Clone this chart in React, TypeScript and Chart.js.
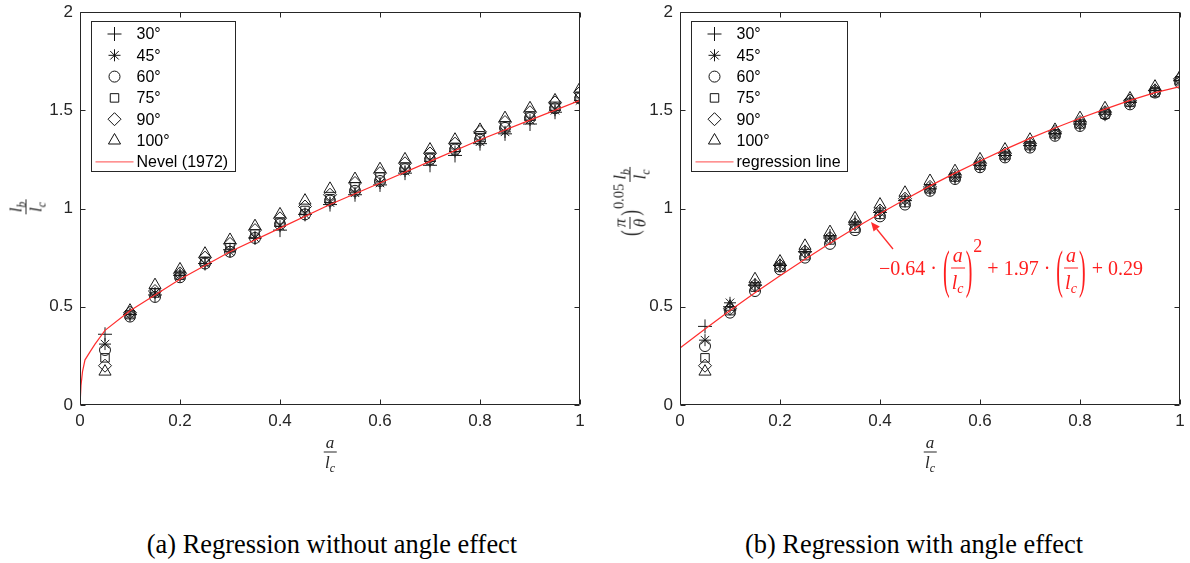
import React, { useEffect, useRef } from 'react';
import { Chart, registerables } from 'chart.js';
import { drawPoint } from 'chart.js/helpers';

Chart.register(...registerables);

// ---------- data ----------
const xValues = [0.05, 0.1, 0.15, 0.2, 0.25, 0.3, 0.35, 0.4, 0.45, 0.5, 0.55, 0.6, 0.65, 0.7, 0.75, 0.8, 0.85, 0.9, 0.95, 1.0];
const angleLabels = ['30°', '45°', '60°', '75°', '90°', '100°'];
const markerStyles = ['cross', 'star', 'circle', 'rect', 'rectRot', 'triangle'];
const markerRadii = [7, 6, 5.5, 6, 6.5, 7];

// (a) without angle effect: lb/lc
const a30 = [0.36, 0.46, 0.56, 0.66, 0.72, 0.79, 0.85, 0.89, 0.97, 1.02, 1.07, 1.12, 1.18, 1.22, 1.27, 1.33, 1.38, 1.43, 1.49, 1.54];
const a45 = [0.31, 0.46, 0.57, 0.66, 0.72, 0.78, 0.85, 0.91, 0.97, 1.03, 1.08, 1.13, 1.19, 1.24, 1.29, 1.34, 1.39, 1.45, 1.50, 1.55];
const a60 = [0.28, 0.45, 0.55, 0.65, 0.72, 0.78, 0.85, 0.92, 0.97, 1.04, 1.09, 1.14, 1.20, 1.25, 1.30, 1.35, 1.41, 1.46, 1.51, 1.56];
const a75 = [0.24, 0.46, 0.57, 0.66, 0.73, 0.80, 0.87, 0.93, 0.99, 1.05, 1.11, 1.16, 1.21, 1.26, 1.31, 1.37, 1.42, 1.47, 1.52, 1.57];
const a90 = [0.20, 0.47, 0.58, 0.67, 0.75, 0.82, 0.89, 0.95, 1.01, 1.07, 1.13, 1.18, 1.23, 1.28, 1.33, 1.39, 1.44, 1.49, 1.54, 1.59];
const a100 = [0.17, 0.48, 0.61, 0.69, 0.77, 0.84, 0.91, 0.97, 1.04, 1.10, 1.15, 1.20, 1.25, 1.30, 1.35, 1.40, 1.46, 1.51, 1.55, 1.61];

const nevelX = [0, 0.002, 0.005, 0.01, 0.02, 0.03, 0.05, 0.1, 0.15, 0.2, 0.3, 0.4, 0.5, 0.6, 0.7, 0.8, 0.9, 1.0];
const nevelY = [0, 0.1, 0.17, 0.23, 0.27, 0.31, 0.38, 0.48, 0.56, 0.64, 0.78, 0.9, 1.02, 1.13, 1.24, 1.35, 1.45, 1.55];

// (b) with angle effect: (pi/theta)^0.05 lb/lc
const b30 = [0.40, 0.50, 0.61, 0.71, 0.78, 0.86, 0.93, 0.98, 1.04, 1.10, 1.16, 1.22, 1.27, 1.32, 1.38, 1.43, 1.48, 1.54, 1.60, 1.65];
const b45 = [0.33, 0.52, 0.61, 0.71, 0.78, 0.85, 0.92, 0.98, 1.04, 1.10, 1.16, 1.22, 1.27, 1.32, 1.38, 1.43, 1.49, 1.54, 1.60, 1.65];
const b60 = [0.30, 0.47, 0.58, 0.69, 0.75, 0.82, 0.89, 0.96, 1.02, 1.09, 1.15, 1.21, 1.26, 1.31, 1.37, 1.42, 1.48, 1.53, 1.59, 1.64];
const b75 = [0.24, 0.48, 0.60, 0.70, 0.76, 0.84, 0.90, 0.97, 1.03, 1.10, 1.16, 1.22, 1.27, 1.32, 1.38, 1.43, 1.48, 1.54, 1.59, 1.65];
const b90 = [0.20, 0.49, 0.61, 0.71, 0.78, 0.85, 0.92, 0.99, 1.05, 1.11, 1.17, 1.23, 1.28, 1.33, 1.39, 1.44, 1.49, 1.55, 1.60, 1.66];
const b100 = [0.17, 0.50, 0.64, 0.73, 0.81, 0.88, 0.95, 1.02, 1.08, 1.14, 1.19, 1.25, 1.30, 1.35, 1.40, 1.46, 1.51, 1.56, 1.62, 1.67];

const regX = [0, 0.05, 0.1, 0.15, 0.2, 0.25, 0.3, 0.35, 0.4, 0.45, 0.5, 0.55, 0.6, 0.65, 0.7, 0.75, 0.8, 0.85, 0.9, 0.95, 1.0];
const regY = [0.29, 0.387, 0.481, 0.571, 0.658, 0.742, 0.823, 0.901, 0.975, 1.046, 1.115, 1.180, 1.242, 1.301, 1.357, 1.410, 1.459, 1.506, 1.550, 1.590, 1.62];

// annotation arrow (data coords of right panel): tail -> tip
const arrowTail = [0.426, 0.794];
const arrowTip = [0.382, 0.931];

const xTickValues = [0, 0.2, 0.4, 0.6, 0.8, 1];
const xTickLabels = ['0', '0.2', '0.4', '0.6', '0.8', '1'];
const yTickValues = [0, 0.5, 1, 1.5, 2];
const yTickLabels = ['0', '0.5', '1', '1.5', '2'];

const RED = 'rgb(255,45,45)';
const AXIS = '#262626';
const SANS = '"Liberation Sans", Arial, Helvetica, sans-serif';
const SERIF = '"Liberation Serif", "Times New Roman", serif';

// ---------- plugins ----------
const framePlugin = {
  id: 'frame',
  afterDraw(chart: any) {
    const { ctx, chartArea: a, scales } = chart;
    const opts = chart.options.plugins.frame || {};
    ctx.save();
    ctx.strokeStyle = AXIS;
    ctx.lineWidth = 1;
    const L = Math.round(a.left) + 0.5, R = Math.round(a.right) - 0.5;
    const T = Math.round(a.top) + 0.5, B = Math.round(a.bottom) - 0.5;
    ctx.beginPath();
    ctx.rect(L, T, R - L, B - T);
    ctx.stroke();
    const tl = 5;
    ctx.beginPath();
    xTickValues.forEach((v) => {
      const px = Math.round(scales.x.getPixelForValue(v)) + 0.5;
      ctx.moveTo(px, B); ctx.lineTo(px, B - tl);
      ctx.moveTo(px, T); ctx.lineTo(px, T + tl);
    });
    yTickValues.forEach((v) => {
      const py = Math.round(scales.y.getPixelForValue(v)) + 0.5;
      ctx.moveTo(L, py); ctx.lineTo(L + tl, py);
      ctx.moveTo(R, py); ctx.lineTo(R - tl, py);
    });
    ctx.stroke();

    // arrow annotation
    if (opts.arrow) {
      const x1 = scales.x.getPixelForValue(arrowTail[0]);
      const y1 = scales.y.getPixelForValue(arrowTail[1]);
      const x2 = scales.x.getPixelForValue(arrowTip[0]);
      const y2 = scales.y.getPixelForValue(arrowTip[1]);
      const ang = Math.atan2(y2 - y1, x2 - x1);
      const hl = 9, hw = 4;
      const bx = x2 - Math.cos(ang) * hl, by = y2 - Math.sin(ang) * hl;
      ctx.strokeStyle = RED;
      ctx.fillStyle = RED;
      ctx.lineWidth = 1.3;
      ctx.beginPath();
      ctx.moveTo(x1, y1); ctx.lineTo(bx, by);
      ctx.stroke();
      ctx.beginPath();
      ctx.moveTo(x2, y2);
      ctx.lineTo(bx + Math.sin(ang) * hw, by - Math.cos(ang) * hw);
      ctx.lineTo(bx - Math.sin(ang) * hw, by + Math.cos(ang) * hw);
      ctx.closePath();
      ctx.fill();
    }

    // legend box
    const lg = opts.legend;
    if (lg) {
      const bl = Math.round(a.left) + 11 + 0.5;
      const bt = Math.round(a.top) + 9 + 0.5;
      const bw = lg.width, bh = 150;
      ctx.fillStyle = '#fff';
      ctx.fillRect(bl, bt, bw, bh);
      ctx.strokeStyle = AXIS;
      ctx.lineWidth = 1;
      ctx.strokeRect(bl, bt, bw, bh);
      ctx.font = `16px ${SANS}`;
      ctx.textBaseline = 'middle';
      ctx.textAlign = 'left';
      for (let i = 0; i < 6; i++) {
        const y = bt + 12.5 + i * 21.3;
        ctx.strokeStyle = '#111';
        ctx.fillStyle = 'rgba(0,0,0,0)';
        drawPoint(ctx, { pointStyle: markerStyles[i], rotation: 0, radius: markerRadii[i], borderWidth: 1 } as any, bl + 23, y);
        ctx.fillStyle = '#000';
        ctx.fillText(angleLabels[i], bl + 45, y + 1);
      }
      const ly = bt + 12.5 + 6 * 21.3;
      ctx.strokeStyle = 'rgb(255,110,110)';
      ctx.lineWidth = 1.2;
      ctx.beginPath();
      ctx.moveTo(bl + 4, ly); ctx.lineTo(bl + 42, ly);
      ctx.stroke();
      ctx.fillStyle = '#000';
      ctx.fillText(lg.lineLabel, bl + 45, ly + 1);
    }
    ctx.restore();
  },
};

function buildChart(canvas: HTMLCanvasElement, series: number[][], lineX: number[], lineY: number[], lineLabel: string, legendWidth: number, arrow: boolean) {
  const datasets: any[] = [];
  datasets.push({
    label: lineLabel,
    data: lineX.map((x, i) => ({ x, y: lineY[i] })),
    showLine: true,
    borderColor: RED,
    borderWidth: 1.2,
    pointRadius: 0,
    fill: false,
    tension: 0,
    order: 0,
  });
  series.forEach((vals, k) => {
    datasets.push({
      label: angleLabels[k],
      data: xValues.map((x, i) => ({ x, y: vals[i] })),
      showLine: false,
      pointStyle: markerStyles[k],
      pointRadius: markerRadii[k],
      pointBorderColor: '#1a1a1a',
      pointBackgroundColor: 'rgba(0,0,0,0)',
      pointBorderWidth: 1,
      order: 1,
    });
  });
  const tickFont = { family: SANS, size: 17 };
  const noPad = (s: any) => { s.paddingTop = 0; s.paddingBottom = 0; s.paddingLeft = 0; s.paddingRight = 0; };
  return new Chart(canvas, {
    type: 'scatter',
    data: { datasets },
    options: {
      animation: false,
      responsive: false,
      devicePixelRatio: 1,
      layout: { padding: { left: 0, right: 20, top: 12, bottom: 0 } },
      plugins: {
        legend: { display: false },
        tooltip: { enabled: false },
        frame: { legend: { width: legendWidth, lineLabel }, arrow },
      } as any,
      scales: {
        x: {
          type: 'linear',
          min: 0,
          max: 1,
          afterFit: (s: any) => { s.height = 75; noPad(s); },
          ticks: {
            stepSize: 0.2,
            autoSkip: false,
            maxRotation: 0,
            color: AXIS,
            font: tickFont,
            padding: 6,
            callback: (_v: any, i: number) => xTickLabels[i],
          },
          grid: { display: false, drawTicks: false },
          border: { display: false },
        },
        y: {
          type: 'linear',
          min: 0,
          max: 2,
          afterFit: (s: any) => { s.width = 80; noPad(s); },
          ticks: {
            stepSize: 0.5,
            autoSkip: false,
            color: AXIS,
            font: tickFont,
            padding: 7,
            callback: (_v: any, i: number) => yTickLabels[i],
          },
          grid: { display: false, drawTicks: false },
          border: { display: false },
        },
      },
    },
    plugins: [framePlugin],
  } as any);
}

// ---------- math-ish text helpers ----------
function L({ sub }: { sub: string }) {
  return (
    <span style={{ fontStyle: 'italic' }}>
      l<span style={{ fontSize: '0.7em', position: 'relative', top: '0.3em' }}>{sub}</span>
    </span>
  );
}

function Frac({ num, den, gap = 1 }: { num: any; den: any; gap?: number }) {
  return (
    <span style={{ display: 'inline-flex', flexDirection: 'column', alignItems: 'center', verticalAlign: 'middle', lineHeight: 1 }}>
      <span style={{ padding: `0 2px ${gap}px` }}>{num}</span>
      <span style={{ borderTop: '1px solid currentColor', alignSelf: 'stretch', textAlign: 'center', paddingTop: gap }}>{den}</span>
    </span>
  );
}

function BigParen({ ch, scale }: { ch: string; scale: number }) {
  return (
    <span style={{ display: 'inline-block', transform: `scaleY(${scale})`, verticalAlign: 'middle', lineHeight: 1, fontStyle: 'normal', margin: '0 1px' }}>{ch}</span>
  );
}

const Op = ({ t }: { t: string }) => <span style={{ margin: '0 5px' }}>{t}</span>;

export default function App() {
  const leftRef = useRef<HTMLCanvasElement>(null);
  const rightRef = useRef<HTMLCanvasElement>(null);

  useEffect(() => {
    const c1 = buildChart(leftRef.current!, [a30, a45, a60, a75, a90, a100], nevelX, nevelY, 'Nevel (1972)', 144, false);
    const c2 = buildChart(rightRef.current!, [b30, b45, b60, b75, b90, b100], regX, regY, 'regression line', 156, true);
    return () => { c1.destroy(); c2.destroy(); };
  }, []);

  const abs = (x: number, y: number, extra: any = {}) => ({
    position: 'absolute' as const, left: x, top: y, whiteSpace: 'nowrap' as const, ...extra,
  });

  const labelStyle = { font: `17px ${SERIF}`, color: AXIS };

  return (
    <div style={{ position: 'absolute', left: 0, top: 0, width: 1190, height: 563, background: '#fff', overflow: 'hidden' }}>
      <canvas ref={leftRef} width={600} height={480} style={{ position: 'absolute', left: 0, top: 0 }} />
      <canvas ref={rightRef} width={600} height={480} style={{ position: 'absolute', left: 600, top: 0 }} />

      {/* y labels */}
      <div style={abs(26, 207, { ...labelStyle, transform: 'translate(-50%,-50%) rotate(-90deg)' })}>
        <Frac num={<L sub="b" />} den={<L sub="c" />} />
      </div>
      <div style={abs(630, 202, { ...labelStyle, transform: 'translate(-50%,-50%) rotate(-90deg)' })}>
        <BigParen ch="(" scale={1.5} />
        <Frac num={<i>π</i>} den={<i>θ</i>} />
        <BigParen ch=")" scale={1.5} />
        <span style={{ fontSize: '0.85em', position: 'relative', top: '-0.7em' }}>0.05</span>
        <span style={{ marginLeft: 2 }}><Frac num={<L sub="b" />} den={<L sub="c" />} /></span>
      </div>

      {/* x labels */}
      <div style={abs(330, 452, { ...labelStyle, transform: 'translate(-50%,-50%)' })}>
        <Frac num={<i>a</i>} den={<L sub="c" />} />
      </div>
      <div style={abs(930, 452, { ...labelStyle, transform: 'translate(-50%,-50%)' })}>
        <Frac num={<i>a</i>} den={<L sub="c" />} />
      </div>

      {/* regression formula */}
      <div style={abs(1011, 268, { font: `20px ${SERIF}`, color: 'rgb(255,30,30)', transform: 'translate(-50%,-50%)', display: 'flex', alignItems: 'center' })}>
        <span>−0.64</span>
        <Op t="·" />
        <BigParen ch="(" scale={2.6} />
        <Frac num={<i>a</i>} den={<L sub="c" />} gap={3} />
        <BigParen ch=")" scale={2.6} />
        <span style={{ position: 'relative', top: -22, fontSize: '0.9em' }}>2</span>
        <Op t="+" />
        <span>1.97</span>
        <Op t="·" />
        <BigParen ch="(" scale={2.6} />
        <Frac num={<i>a</i>} den={<L sub="c" />} gap={3} />
        <BigParen ch=")" scale={2.6} />
        <Op t="+" />
        <span>0.29</span>
      </div>

      {/* captions */}
      <div style={abs(332, 544, { font: `26.4px ${SERIF}`, color: '#000', transform: 'translate(-50%,-50%)' })}>
        (a) Regression without angle effect
      </div>
      <div style={abs(914, 544, { font: `26.4px ${SERIF}`, color: '#000', transform: 'translate(-50%,-50%)' })}>
        (b) Regression with angle effect
      </div>
    </div>
  );
}
